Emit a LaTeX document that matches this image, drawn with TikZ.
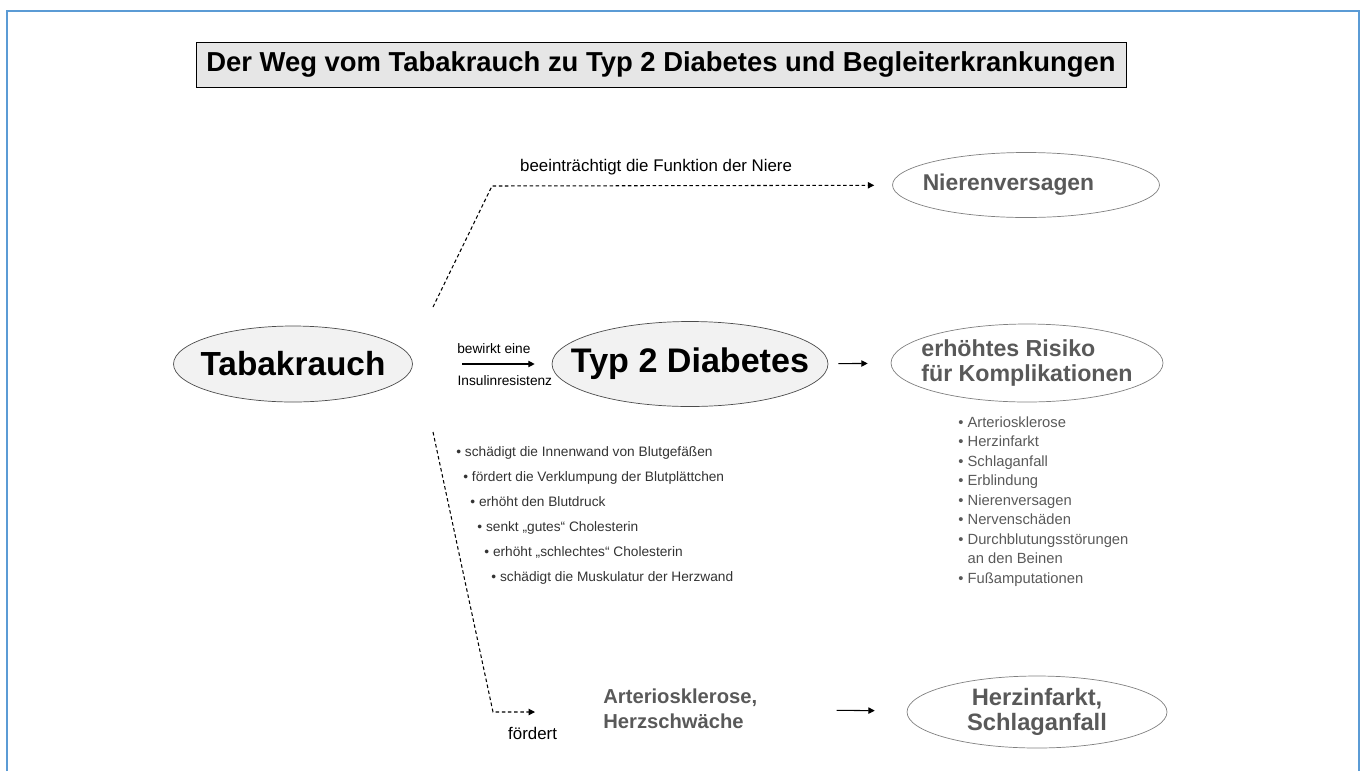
\documentclass[tikz,border=0pt]{standalone}
\usepackage{fontspec}
\setmainfont{Liberation Sans}
\usetikzlibrary{positioning, shapes.geometric, arrows.meta}
\definecolor{rahmen}{RGB}{91,155,213}
\definecolor{textgrau}{RGB}{89,89,89}
\definecolor{randgrau}{RGB}{128,128,128}
\definecolor{fuellgrau}{RGB}{242,242,242}
\definecolor{titelgrau}{RGB}{230,230,230}

\begin{document}
\begin{tikzpicture}[x=0.02cm, y=-0.02cm]
\tikzstyle{oval}=[ellipse,draw=randgrau,fill=white,inner xsep=-3em,inner ysep=-1em,text=textgrau]
\tikzstyle{haupt}=[oval,draw=black!70,fill=fuellgrau,text=black]
\tikzstyle{pfeil}=[-{Triangle[length=3.6pt,width=3.6pt]},line width=0.6pt]
\tikzstyle{gestrichelt}=[pfeil,dash pattern=on 2pt off 1.5pt]
\useasboundingbox (0,0) rectangle (1361,771);
\draw[rahmen,line width=1.1pt] (7,771) -- (7,11) -- (1359,11) -- (1359,771);
\node[draw,fill=titelgrau,minimum width=18.6cm,minimum height=0.9cm,font=\fontsize{15.6}{18}\selectfont\bfseries] (titel) at (661,64.5) {Der Weg vom Tabakrauch zu Typ 2 Diabetes und Begleiterkrankungen};
\node[haupt,minimum width=4.78cm,minimum height=1.52cm,font=\fontsize{19}{22}\selectfont\bfseries] (tabak) at (293,364) {Tabakrauch};
\node[haupt,minimum width=5.52cm,minimum height=1.7cm,font=\fontsize{19.4}{22}\selectfont\bfseries] (typ2) at (690,364) {Typ 2 Diabetes};
\node[oval,minimum width=5.44cm,minimum height=1.56cm,align=left,font=\fontsize{13.2}{14.2}\selectfont\bfseries] (risiko) at (1027,363) {erhöhtes Risiko\\für Komplikationen};
\node[oval,minimum width=5.34cm,minimum height=1.3cm,font=\fontsize{13}{15}\selectfont\bfseries] (nieren) at (1026,185) {Nierenversagen\hspace*{20pt}};
\node[oval,minimum width=5.2cm,minimum height=1.44cm,align=center,font=\fontsize{13.5}{14.2}\selectfont\bfseries] (herz) at (1037,712) {Herzinfarkt,\\Schlaganfall};
\node[anchor=west,align=left,inner sep=0pt,text=textgrau,font=\fontsize{11.5}{14.2}\selectfont\bfseries] (arterio) at (603,709) {Arteriosklerose,\\Herzschwäche};
% Liste der Folgeerkrankungen
\node[anchor=north west,align=left,inner sep=0pt,text=textgrau,font=\fontsize{8.4}{11.1}\selectfont] (liste) at (958,416) {• Arteriosklerose\\• Herzinfarkt\\• Schlaganfall\\• Erblindung\\• Nierenversagen\\• Nervenschäden\\• Durchblutungsstörungen\\\phantom{• }an den Beinen\\• Fußamputationen};
% Wirkungen auf Herz und Gefäße
\node[anchor=north west,align=left,inner sep=0pt,text=black!80,font=\fontsize{7.8}{14.2}\selectfont] (wirkung) at (456,446) {• schädigt die Innenwand von Blutgefäßen\\\hspace*{4pt}• fördert die Verklumpung der Blutplättchen\\\hspace*{8pt}• erhöht den Blutdruck\\\hspace*{12pt}• senkt „gutes“ Cholesterin\\\hspace*{16pt}• erhöht „schlechtes“ Cholesterin\\\hspace*{20pt}• schädigt die Muskulatur der Herzwand};
\coordinate (o1) at (433,307);
\coordinate (o2) at (492,186);
\coordinate (u1) at (433,432);
\coordinate (u2) at (493,712);
\draw[gestrichelt,shorten >=0.36cm] (o1) -- (o2) -- node[pos=0.41,above=2.5pt,font=\fontsize{9.6}{11}\selectfont] {beeinträchtigt die Funktion der Niere} (nieren);
\draw[gestrichelt,shorten >=1.36cm] (u1) -- (u2) -- node[pos=0.36,below=5pt,font=\fontsize{9.6}{11}\selectfont] {fördert} (u2 -| arterio.west);
\path[pfeil]
(tabak) edge[shorten <=0.99cm, shorten >=0.34cm] node[pos=0.584,above=2pt,font=\fontsize{7.8}{9}\selectfont] {bewirkt eine} node[pos=0.663,below=3pt,font=\fontsize{7.8}{9}\selectfont] {Insulinresistenz} (typ2)
(typ2) edge[shorten <=0.2cm, shorten >=0.46cm] (risiko)
(arterio) edge[shorten <=1.58cm, shorten >=0.64cm] (herz)
;
\end{tikzpicture}
\end{document}
